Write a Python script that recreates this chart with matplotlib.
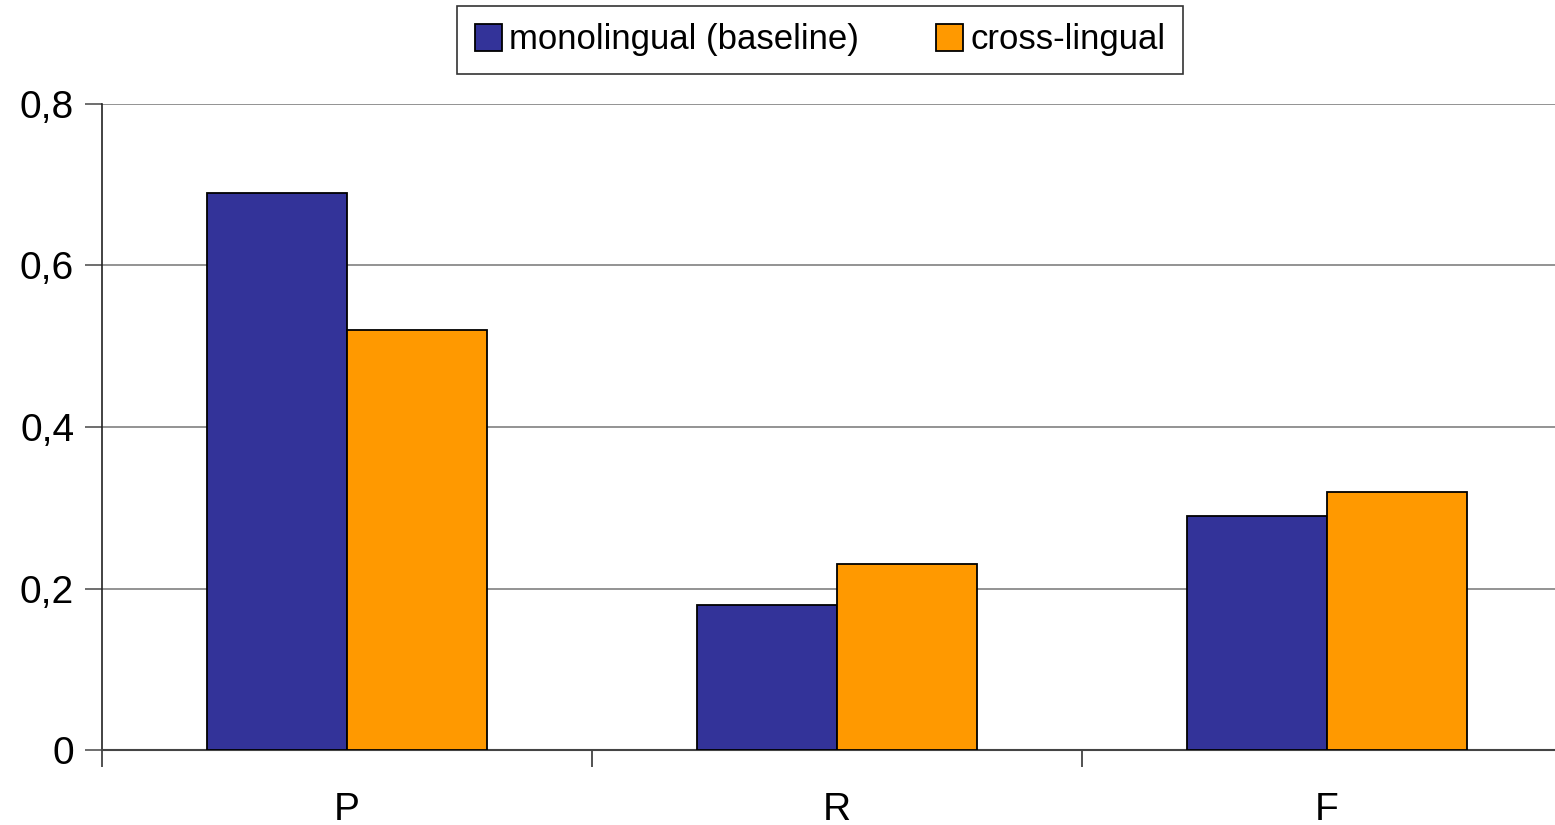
import numpy as np
import matplotlib.pyplot as plt
from matplotlib.ticker import FuncFormatter

categories = ['P', 'R', 'F']
series_names = ['monolingual (baseline)', 'cross-lingual']
mono = [0.69, 0.18, 0.29]
cross = [0.52, 0.23, 0.32]

plt.rcParams['font.family'] = ['Liberation Sans', 'DejaVu Sans']

fig = plt.figure(figsize=(15.55, 8.25), dpi=100)
ax = fig.add_axes([102/1555, 75/825, 1470/1555, 646/825])

x = np.arange(len(categories))
w = 140/490
ax.bar(x - w/2, mono, w, color='#333399', edgecolor='black', linewidth=1.3,
       label=series_names[0], zorder=3)
ax.bar(x + w/2, cross, w, color='#FF9900', edgecolor='black', linewidth=1.3,
       label=series_names[1], zorder=3)

ax.set_xlim(-0.5, 2.5)
ax.set_ylim(0, 0.8)
ax.set_yticks([0, 0.2, 0.4, 0.6, 0.8])
ax.yaxis.set_major_formatter(FuncFormatter(lambda v, p: ('%g' % v).replace('.', ',')))
ax.set_xticks(x)
ax.set_xticklabels(categories)
ax.set_xticks(np.arange(-0.5, 2.5, 1.0), minor=True)
ax.tick_params(axis='x', which='major', length=0, labelsize=28, pad=30)
ax.tick_params(axis='x', which='minor', length=12, width=1.2, color='#333333')
ax.tick_params(axis='y', length=12, width=1.2, color='#555555', labelsize=28, pad=8)

ax.grid(axis='y', color='#808080', linewidth=1.2, zorder=0)
for s in ['top', 'right']:
    ax.spines[s].set_visible(False)
ax.spines['left'].set_color('#222222')
ax.spines['left'].set_linewidth(1.2)
ax.spines['bottom'].set_color('#444444')
ax.spines['bottom'].set_linewidth(1.5)

leg = fig.legend(loc='center', bbox_to_anchor=(820/1555, 1 - 40/825), ncol=2,
                 frameon=True, fancybox=False, shadow=False, edgecolor='black',
                 prop={'size': 25},
                 handlelength=0.8, handleheight=0.8, handletextpad=0.2,
                 columnspacing=2.2, borderpad=0.5, borderaxespad=0)
leg.get_frame().set_linewidth(1.2)

fig.savefig('out.png', dpi=100)
